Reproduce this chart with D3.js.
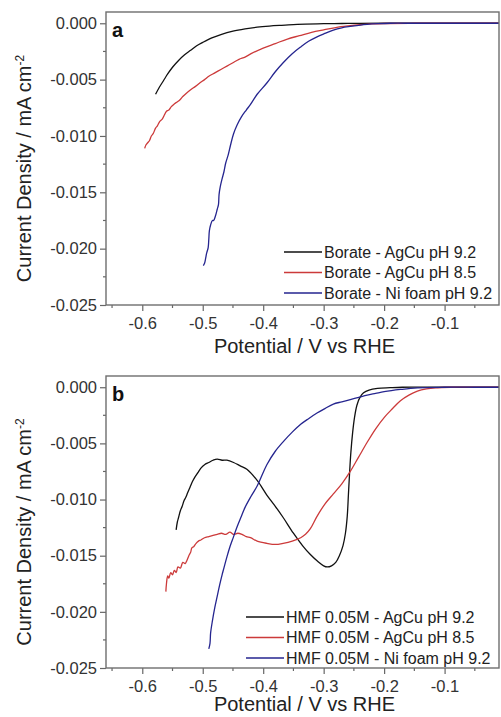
<!DOCTYPE html>
<html lang="en">
<head>
    <meta charset="UTF-8">
    <title>LSV curves</title>
    <script src="https://d3js.org/d3.v7.min.js"></script>
    <style>
        body { margin: 0; background: #fff; font-family: "Liberation Sans", Arial, sans-serif; }
        svg { display: block; }
    </style>
</head>
<body>
    <script>
        // Panel a: borate electrolyte
        const aBlackX = [-0.578, -0.572, -0.565, -0.558, -0.55, -0.54, -0.53, -0.52, -0.51, -0.50, -0.485, -0.47, -0.45, -0.43, -0.41, -0.39, -0.37, -0.35, -0.33, -0.30, -0.27, -0.24, -0.20, -0.15, -0.10, -0.05, -0.01];
        const aBlackY = [-0.0063, -0.0057, -0.0051, -0.0045, -0.0039, -0.0033, -0.0028, -0.0024, -0.0020, -0.0017, -0.0013, -0.0010, -0.0007, -0.0005, -0.00035, -0.00025, -0.00018, -0.00012, -0.00008, -0.00004, -0.00002, -0.00001, 0, 0, 0, 0, 0];

        const aRedX = [-0.596, -0.594, -0.591, -0.588, -0.585, -0.582, -0.578, -0.575, -0.571, -0.567, -0.563, -0.56, -0.556, -0.552, -0.548, -0.543, -0.538, -0.533, -0.527, -0.52, -0.512, -0.505, -0.497, -0.49, -0.48, -0.47, -0.46, -0.45, -0.44, -0.43, -0.42, -0.40, -0.38, -0.36, -0.34, -0.32, -0.30, -0.28, -0.26, -0.24, -0.22, -0.20, -0.15, -0.10, -0.05, -0.01];
        const aRedY = [-0.0111, -0.0108, -0.0106, -0.0104, -0.0100, -0.0098, -0.0093, -0.0091, -0.0087, -0.0085, -0.0081, -0.0078, -0.0077, -0.0074, -0.0072, -0.0070, -0.0068, -0.0065, -0.0062, -0.0059, -0.0056, -0.0053, -0.0050, -0.0047, -0.0044, -0.0041, -0.0038, -0.0035, -0.0032, -0.0030, -0.0027, -0.0022, -0.0018, -0.0014, -0.0011, -0.0008, -0.00058, -0.00038, -0.00024, -0.00013, -0.00006, -0.00002, 0, 0, 0, 0];

        const aBlueX = [-0.499, -0.497, -0.495, -0.494, -0.493, -0.491, -0.490, -0.489, -0.487, -0.484, -0.482, -0.479, -0.476, -0.474, -0.473, -0.471, -0.468, -0.465, -0.462, -0.458, -0.454, -0.449, -0.443, -0.436, -0.428, -0.421, -0.41, -0.394, -0.38, -0.367, -0.352, -0.338, -0.325, -0.311, -0.298, -0.284, -0.27, -0.256, -0.242, -0.228, -0.21, -0.19, -0.15, -0.10, -0.05, -0.01];
        const aBlueY = [-0.0215, -0.0213, -0.0208, -0.0205, -0.0203, -0.0199, -0.0192, -0.0184, -0.0179, -0.0175, -0.0175, -0.0171, -0.0165, -0.0161, -0.0152, -0.0145, -0.0138, -0.0132, -0.0124, -0.0117, -0.0108, -0.0098, -0.0090, -0.0083, -0.0077, -0.0072, -0.0063, -0.0053, -0.0043, -0.0035, -0.0027, -0.0021, -0.0016, -0.0012, -0.0009, -0.0006, -0.0004, -0.00028, -0.00018, -0.0001, -0.00004, 0, 0, 0, 0, 0];

        // Panel b: HMF 0.05M
        const bBlackX = [-0.544, -0.542, -0.540, -0.537, -0.534, -0.531, -0.528, -0.525, -0.521, -0.517, -0.513, -0.508, -0.503, -0.497, -0.49, -0.483, -0.476, -0.468, -0.46, -0.449, -0.438, -0.427, -0.41, -0.394, -0.38, -0.367, -0.35, -0.335, -0.322, -0.31, -0.30, -0.294, -0.287, -0.28, -0.274, -0.268, -0.264, -0.261, -0.259, -0.257, -0.255, -0.252, -0.249, -0.245, -0.24, -0.234, -0.225, -0.211, -0.19, -0.17, -0.12, -0.06, -0.01];
        const bBlackY = [-0.0127, -0.0120, -0.0116, -0.0110, -0.0106, -0.0101, -0.0098, -0.0094, -0.0089, -0.0084, -0.0080, -0.0076, -0.0072, -0.0069, -0.0067, -0.0065, -0.0064, -0.0065, -0.0065, -0.0067, -0.0070, -0.0073, -0.0083, -0.0096, -0.0106, -0.0116, -0.0130, -0.0141, -0.0149, -0.0155, -0.0159, -0.0160, -0.0159, -0.0156, -0.0150, -0.0141, -0.0130, -0.0115, -0.0095, -0.0075, -0.0058, -0.0040, -0.0027, -0.0016, -0.0009, -0.0005, -0.00025, -0.0001, -0.00004, 0, 0, 0, 0];

        const bRedX = [-0.561, -0.560, -0.558, -0.556, -0.553, -0.550, -0.547, -0.544, -0.541, -0.537, -0.533, -0.529, -0.526, -0.523, -0.520, -0.518, -0.515, -0.511, -0.507, -0.503, -0.497, -0.49, -0.483, -0.476, -0.469, -0.462, -0.455, -0.449, -0.442, -0.435, -0.428, -0.421, -0.41, -0.394, -0.38, -0.367, -0.352, -0.338, -0.33, -0.322, -0.311, -0.298, -0.284, -0.27, -0.256, -0.242, -0.228, -0.214, -0.2, -0.186, -0.173, -0.159, -0.145, -0.13, -0.115, -0.09, -0.05, -0.01];
        const bRedY = [-0.0182, -0.0175, -0.0168, -0.0170, -0.0165, -0.0167, -0.0163, -0.0165, -0.0160, -0.0161, -0.0156, -0.0157, -0.0154, -0.0150, -0.0147, -0.0143, -0.0142, -0.0139, -0.0137, -0.0136, -0.0134, -0.0133, -0.0132, -0.0131, -0.0130, -0.0131, -0.0129, -0.0131, -0.0130, -0.0131, -0.0133, -0.0134, -0.0137, -0.0139, -0.0140, -0.0139, -0.0137, -0.0134, -0.0131, -0.0126, -0.0115, -0.0104, -0.0095, -0.0086, -0.0075, -0.0062, -0.0049, -0.0037, -0.0027, -0.0019, -0.0012, -0.0007, -0.00035, -0.00015, -0.00005, 0, 0, 0];

        const bBlueX = [-0.490, -0.488, -0.487, -0.484, -0.48, -0.476, -0.472, -0.468, -0.465, -0.46, -0.455, -0.449, -0.443, -0.437, -0.43, -0.421, -0.41, -0.394, -0.38, -0.366, -0.352, -0.338, -0.325, -0.311, -0.298, -0.284, -0.27, -0.256, -0.242, -0.228, -0.214, -0.2, -0.173, -0.145, -0.10, -0.05, -0.01];
        const bBlueY = [-0.0233, -0.0228, -0.0219, -0.0208, -0.0196, -0.0186, -0.0176, -0.0167, -0.0161, -0.0151, -0.0142, -0.0133, -0.0124, -0.0116, -0.0107, -0.0098, -0.0088, -0.0069, -0.0057, -0.0048, -0.0040, -0.0033, -0.0028, -0.0023, -0.0019, -0.0015, -0.0013, -0.0011, -0.0009, -0.0007, -0.00055, -0.0004, -0.0002, -0.00005, 0, 0, 0];

        const labelsA = ["Borate - AgCu pH 9.2", "Borate - AgCu pH 8.5", "Borate - Ni foam pH 9.2"];
        const labelsB = ["HMF 0.05M - AgCu pH 9.2", "HMF 0.05M - AgCu pH 8.5", "HMF 0.05M - Ni foam pH 9.2"];
        const colors = ["#111111", "#cc3a3a", "#25258f"];

        const xTicks = [-0.6, -0.5, -0.4, -0.3, -0.2, -0.1];
        const yTicks = [0, -0.005, -0.010, -0.015, -0.020, -0.025];

        const width = 501, height = 717;
        const svg = d3.select("body").append("svg")
            .attr("width", width)
            .attr("height", height);

        function drawPanel(opt) {
            const { top, bottom, left, right } = opt;

            const x = d3.scaleLinear().domain([-0.66, -0.01]).range([left, right]);
            const y = d3.scaleLinear().domain([-0.025, 0.001]).range([bottom, top]);

            const g = svg.append("g");

            // minor ticks
            const xMinor = d3.range(-0.65, -0.01, 0.1);
            g.selectAll(".xminor").data(xMinor).enter().append("line")
                .attr("x1", d => x(d)).attr("x2", d => x(d))
                .attr("y1", bottom).attr("y2", bottom + 3)
                .attr("stroke", "#666").attr("stroke-width", 1.2);
            const yMinor = d3.range(-0.0225, 0.001, 0.005);
            g.selectAll(".yminor").data(yMinor).enter().append("line")
                .attr("y1", d => y(d)).attr("y2", d => y(d))
                .attr("x1", left - 3).attr("x2", left)
                .attr("stroke", "#666").attr("stroke-width", 1.2);

            // axes
            const xAxis = g.append("g")
                .attr("transform", `translate(0,${bottom})`)
                .call(d3.axisBottom(x).tickValues(xTicks).tickSize(6).tickSizeOuter(0));
            const yAxis = g.append("g")
                .attr("transform", `translate(${left},0)`)
                .call(d3.axisLeft(y).tickValues(yTicks).tickSize(6).tickSizeOuter(0));
            [xAxis, yAxis].forEach(a => {
                a.attr("font-family", null).attr("font-size", null);
                a.select(".domain").remove();
                a.selectAll("line").attr("stroke", "#666").attr("stroke-width", 1.2);
                a.selectAll("text").attr("fill", "#333")
                    .style("font-size", "16.5px");
            });
            xAxis.selectAll("text").attr("dy", "0.95em").attr("y", 8)
                .text(d => d3.format(".1f")(d).replace("−", "-"));
            yAxis.selectAll("text").attr("x", -9)
                .text(d => d3.format(".3f")(d).replace("−", "-"));

            // series
            const line = d3.line()
                .x(d => x(d[0])).y(d => y(d[1]))
                .curve(d3.curveCatmullRom.alpha(0.5));
            const clipId = "clip" + opt.name;
            svg.append("clipPath").attr("id", clipId).append("rect")
                .attr("x", left).attr("y", top).attr("width", right - left).attr("height", bottom - top);
            opt.series.forEach((s, i) => {
                g.append("path")
                    .datum(d3.zip(s[0], s[1]))
                    .attr("clip-path", `url(#${clipId})`)
                    .attr("d", line)
                    .attr("fill", "none")
                    .attr("stroke", colors[i])
                    .attr("stroke-width", 1.3);
            });

            // frame
            g.append("rect")
                .attr("x", left).attr("y", top)
                .attr("width", right - left).attr("height", bottom - top)
                .attr("fill", "none").attr("stroke", "#6e6e6e").attr("stroke-width", 1.4);

            // panel letter
            g.append("text")
                .attr("x", left + 6).attr("y", top + 25)
                .style("font-size", "20px").style("font-weight", "bold")
                .attr("fill", "#111")
                .text(opt.name);

            // legend
            const legend = g.append("g");
            opt.labels.forEach((lab, i) => {
                const ly = opt.legendY + i * 20.5;
                legend.append("line")
                    .attr("x1", opt.legendX - 40).attr("x2", opt.legendX - 2)
                    .attr("y1", ly).attr("y2", ly)
                    .attr("stroke", colors[i]).attr("stroke-width", 1.3);
                legend.append("text")
                    .attr("x", opt.legendX).attr("y", ly)
                    .attr("dy", "0.35em")
                    .attr("fill", "#222")
                    .style("font-size", "16px")
                    .text(lab);
            });

            // axis titles
            g.append("text")
                .attr("x", (left + right) / 2 + 2).attr("y", bottom + opt.titleGap)
                .attr("text-anchor", "middle")
                .attr("fill", "#222")
                .style("font-size", "20px")
                .text("Potential / V vs RHE");

            const yt = g.append("text")
                .attr("transform", `translate(31,${(top + bottom) / 2 + 10}) rotate(-90)`)
                .attr("text-anchor", "middle")
                .attr("fill", "#222")
                .style("font-size", "20px");
            yt.append("tspan").text("Current Density / mA cm");
            yt.append("tspan").attr("dy", "-0.55em").style("font-size", "12px").text("-2");
        }

        drawPanel({
            name: "a", top: 12, bottom: 305, left: 106, right: 499, titleGap: 48,
            series: [[aBlackX, aBlackY], [aRedX, aRedY], [aBlueX, aBlueY]],
            labels: labelsA, legendX: 324, legendY: 252
        });

        drawPanel({
            name: "b", top: 376, bottom: 668, left: 106, right: 499, titleGap: 43,
            series: [[bBlackX, bBlackY], [bRedX, bRedY], [bBlueX, bBlueY]],
            labels: labelsB, legendX: 286, legendY: 617
        });
    </script>
</body>
</html>
